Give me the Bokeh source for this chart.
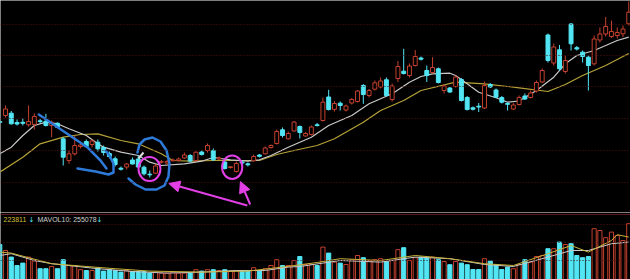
from bokeh.plotting import figure
from bokeh.layouts import column
from bokeh.models import Range1d, Span, Label, Arrow, NormalHead
from bokeh.embed import file_html
from bokeh.resources import INLINE

# ---- daily candles (arbitrary price units) ----
open_ = [79, 85, 87.3, 78, 78.2, 75.7, 76, 79.7, 79.3, 75,
         77.3, 61.7, 40, 46.7, 54, 59, 56, 58.3, 53, 47,
         41.7, 32.3, 33.5, 40.5, 41.5, 33.3, 26.3, 27.3, 38.3, 37.5,
         39.8, 40, 42.5, 45, 40, 48.5, 50, 50, 41.5, 38.5,
         33, 29, 38.5, 36.7, 39.7, 45.5, 46.7, 53, 57, 70.7,
         61.7, 69.5, 74, 64.5, 66, 75.7, 80, 103.5, 91.2, 97.3,
         90.5, 97.5, 99, 115, 105, 111.3, 113.5, 120.7, 101, 122,
         129.3, 125, 135, 142.5, 130, 128, 131.7, 110, 112.5, 114,
         121, 103, 92.7, 94.3, 92.5, 116, 110.5, 103, 97, 91.5,
         96, 104.5, 103, 109.5, 118.5, 165.5, 137.5, 150.7, 129, 176.5,
         152.8, 148.3, 143.3, 136.7, 160.5, 166.5, 164, 165, 166.7, 176.7]
high = [80, 95, 89.5, 81, 82, 95, 87, 81.5, 86.7, 80,
        78, 63.3, 50, 65, 58, 61, 61, 61, 55, 49,
        44, 34, 37.5, 43, 45, 35, 30, 36.5, 40.5, 40.5,
        42, 43, 48, 46.5, 49, 50, 57, 52, 44, 40,
        34.5, 39, 40, 38, 46, 46.5, 54, 56, 71, 73,
        69, 79.5, 75, 68.5, 75, 77.5, 103, 110.7, 99.5, 99,
        96, 102.5, 110.5, 116.5, 111.5, 120, 123, 123, 117, 139.5,
        151.7, 137, 150.5, 144, 135, 143.3, 133, 116, 113.5, 125,
        122.5, 104.5, 94, 97.5, 119, 117.5, 112, 104.5, 98.3, 97.5,
        105, 107, 110, 120, 132, 167, 157, 155.5, 145, 177.5,
        154.5, 150, 145, 165, 173, 183.5, 180, 173, 175, 199]
low = [77, 83, 76, 75, 75, 74, 71, 77.3, 74, 63.3,
       72.5, 35, 36.7, 45, 52, 53, 53, 49, 45, 42,
       34, 30, 31, 36, 33, 25, 23, 26.5, 37, 36,
       39, 39, 41.5, 38, 39, 45, 48, 39.5, 40.5, 31,
       32, 28, 36.5, 34, 39, 43, 46, 52, 56, 63,
       61, 69, 62, 64, 65, 74, 79, 90, 89, 90,
       89, 96, 98, 96.7, 103, 110, 112, 104, 99, 118.5,
       126, 123, 134, 140, 118.5, 127, 117, 107, 107.5, 113,
       99, 90, 90, 88.5, 91.5, 112.5, 102.5, 97, 90, 90.5,
       95, 100.5, 102, 108, 117.5, 138, 135, 130, 127, 150,
       150, 138, 110, 135, 158, 164, 162.5, 162, 163.4, 175]
close = [78, 91.5, 76.7, 76.5, 77.2, 79, 84, 79, 75, 78.3,
         73.3, 43.3, 46.7, 55, 55.5, 54, 59.5, 51.7, 48, 44,
         36, 31.3, 36.5, 36.5, 33.5, 26.7, 25.7, 34.5, 38.8, 39,
         40.5, 41.5, 45.5, 39.5, 48.3, 46, 55, 40.7, 42.5, 32,
         33.7, 37, 37.5, 35.7, 44, 44.2, 52.5, 55, 69, 65,
         67, 78.5, 68, 67, 73.5, 75, 98.3, 91, 97, 95,
         94.5, 101, 109.5, 106, 110, 117.7, 119.5, 105, 114.5, 134,
         127, 134.5, 144, 141.3, 125, 133, 118, 114.5, 108.5, 123.5,
         100, 91, 91.3, 93.5, 115, 113.5, 103.3, 98.3, 96.2, 95.5,
         103, 101.5, 107.5, 118, 130, 140, 153.5, 131.7, 140, 156.7,
         151.5, 144, 135, 161.5, 166.5, 174, 169, 168, 171.5, 188.3]
# volume (thousands)
volume = [175, 145, 112, 70, 82, 112, 92, 54, 54, 65,
          54, 99, 70, 70, 49, 45, 45, 57, 42, 49,
          45, 37, 45, 40, 40, 40, 32, 37, 32, 32,
          37, 32, 32, 32, 49, 42, 49, 49, 45, 49,
          42, 45, 42, 42, 59, 42, 54, 70, 99, 70,
          70, 95, 115, 75, 75, 70, 162, 132, 87, 82,
          75, 99, 120, 109, 95, 99, 104, 90, 95, 149,
          159, 95, 109, 112, 109, 112, 99, 90, 74, 90,
          82, 74, 50, 50, 104, 92, 75, 50, 62, 54,
          75, 99, 87, 115, 120, 154, 154, 187, 175, 179,
          120, 109, 115, 254, 245, 209, 237, 220, 195, 279]

# moving averages (day index, value)
ma_short_day = [0, 2, 4, 6, 8, 10, 12, 15, 17, 18, 21, 24, 26, 28, 32, 35, 37, 40, 43, 45,
                47, 50, 54, 57, 61, 64, 68, 71, 73, 75, 78, 79, 81, 83, 86, 88, 90, 91, 93,
                96, 98, 100, 103, 105, 107, 109]
ma_short_val = [46.7, 53.3, 65, 75, 78.3, 76.7, 71.7, 65, 56.7, 53.3, 48.3, 45, 38.3, 35, 36.7,
                39.3, 43, 40.7, 39.3, 40.7, 45, 53.3, 63.3, 75, 85, 96.7, 106.7, 118.3, 124,
                126.7, 127.3, 125, 116.7, 108.3, 102.7, 98.3, 99.5, 103, 110, 123.3, 136.7,
                145, 150, 155, 160, 163.3]
ma_long_day = [0, 4, 7, 11, 14, 17, 21, 24, 28, 30, 33, 37, 42, 45, 48, 51, 55, 58, 63, 66,
               70, 73, 79, 84, 90, 95, 98, 101, 105, 109]
ma_long_val = [28.3, 43.3, 56.7, 63.3, 66, 66.7, 60, 56.7, 46.7, 40, 39.3, 40, 40, 40, 46, 50,
               55, 61.7, 78.3, 90, 100, 110, 118.3, 116.7, 112.7, 109, 116, 125, 135, 147]
mavol5_day = [0, 2, 5, 9, 15, 20, 26, 35, 43, 49, 55, 59, 66, 72, 78, 84, 89, 95, 99, 102,
              106, 107, 109]
mavol5_val = [137, 132, 109, 79, 65, 54, 42, 37, 42, 62, 85, 104, 95, 120, 104, 79, 70, 129,
              170, 137, 195, 224, 212]
mavol10_day = [0, 2, 6, 9, 17, 23, 29, 35, 41, 46, 50, 52, 56, 59, 66, 72, 78, 84, 89, 95,
               99, 102, 106, 109]
mavol10_val = [120, 129, 95, 79, 54, 40, 32, 37, 45, 45, 62, 65, 82, 95, 87, 112, 104, 75, 65,
               112, 145, 145, 179, 187]

mavol5_text = "223811"
mavol10_text = "MAVOL10: 255078"

# hand-drawn annotations (day index, price)
blue_diag = ([6.77, 11.69, 15.16, 17.46, 18.5], [86, 66.7, 53.3, 40, 32])
blue_hook = ([13.48, 16.6, 18.85, 19.71, 19.71, 19.02, 18.33], [32, 29, 26, 28, 37, 45, 50])
blue_oval = ([22.31, 23.53, 25.26, 27.16, 28.55, 29.24, 29.42, 28.9, 27.86, 26.47, 25.09, 24.22, 23.87],
             [22, 16, 11, 11, 15, 24, 37, 50, 59, 63, 61, 56, 48])
pink_rings = ([25.95, 40.28], [31.5, 33.3], [3.8, 3.5], [24, 23.4])
pink_arrows = [(42.9, -5, 29.3, 17), (43.4, -4, 41.7, 19)]

RED = "#c4402e"
CYAN = "#52e6f4"
BG = "#000000"
GRID = "#4d1010"
BLUE = "#2d7ad8"
PINK = "#e23fe6"

n = len(open_)
days = list(range(n))
up = [c >= o for o, c in zip(open_, close)]
line_cols = [RED if u else CYAN for u in up]
fill_cols = [BG if u else CYAN for u in up]
tops = [max(o, c) for o, c in zip(open_, close)]
bots = [min(o, c) for o, c in zip(open_, close)]

xr = Range1d(0.133, 109.3)

p = figure(width=630, height=212, x_range=xr, y_range=Range1d(-12, 200),
           x_axis_type=None, y_axis_type=None, output_backend="svg",
           toolbar_location=None, min_border=0, background_fill_color=BG,
           border_fill_color=BG, outline_line_color=None)
p.grid.visible = False
for g in [176, 145, 114, 82, 50, 18]:
    p.add_layout(Span(location=g, dimension="width", line_color=GRID,
                      line_dash="1 2", line_width=1))

p.line(ma_long_day, ma_long_val, line_color="#b5a236", line_width=1.2)
p.line(ma_short_day, ma_short_val, line_color="#c9c9c9", line_width=1.2)
p.segment(x0=days, y0=high, x1=days, y1=low, line_color=line_cols, line_width=1)
p.vbar(x=days, top=tops, bottom=bots, width=0.68, fill_color=fill_cols,
       line_color=line_cols, line_width=1)

p.line([24.05, 24.91], [42, 48], line_color="#dddddd", line_width=2)
for xs, ys in (blue_diag, blue_hook, blue_oval):
    p.line(xs, ys, line_color=BLUE, line_width=2.5, line_join="round", line_cap="round")
p.ellipse(x=pink_rings[0], y=pink_rings[1], width=pink_rings[2], height=pink_rings[3],
          fill_color=None, line_color=PINK, line_width=2)
for xs, ys, xe, ye in pink_arrows:
    p.add_layout(Arrow(end=NormalHead(size=11, fill_color=PINK, line_color=PINK),
                       x_start=xs, y_start=ys, x_end=xe, y_end=ye,
                       line_color=PINK, line_width=2))

v = figure(width=630, height=67, x_range=xr, y_range=Range1d(0, 335),
           x_axis_type=None, y_axis_type=None, output_backend="svg",
           toolbar_location=None, min_border=0, background_fill_color=BG,
           border_fill_color=BG, outline_line_color=None)
v.grid.visible = False
v.add_layout(Span(location=325, dimension="width", line_color="#5e1616", line_width=1))
for g in [275, 185, 95]:
    v.add_layout(Span(location=g, dimension="width", line_color=GRID,
                      line_dash="1 2", line_width=1))
v.vbar(x=days, top=volume, bottom=0, width=0.72, fill_color=fill_cols,
       line_color=line_cols, line_width=1)
v.line(mavol10_day, mavol10_val, line_color="#c9c9c9", line_width=1)
v.line(mavol5_day, mavol5_val, line_color="#c8b23a", line_width=1)

for x, txt, col, font in [(3, mavol5_text, "#d2bf3c", "Liberation Sans"),
                          (28, "\u2193", CYAN, "DejaVu Sans"),
                          (37, mavol10_text, "#cfcfcf", "Liberation Sans"),
                          (96, "\u2193", CYAN, "DejaVu Sans")]:
    v.add_layout(Label(x=x, y=300, x_units="screen", y_units="data", text=txt,
                       text_color=col, text_font_size="7px", text_font=font,
                       text_baseline="middle", text_align="left"))

layout = column(p, v, spacing=0)
open("out.html", "w").write(file_html(layout, INLINE))
